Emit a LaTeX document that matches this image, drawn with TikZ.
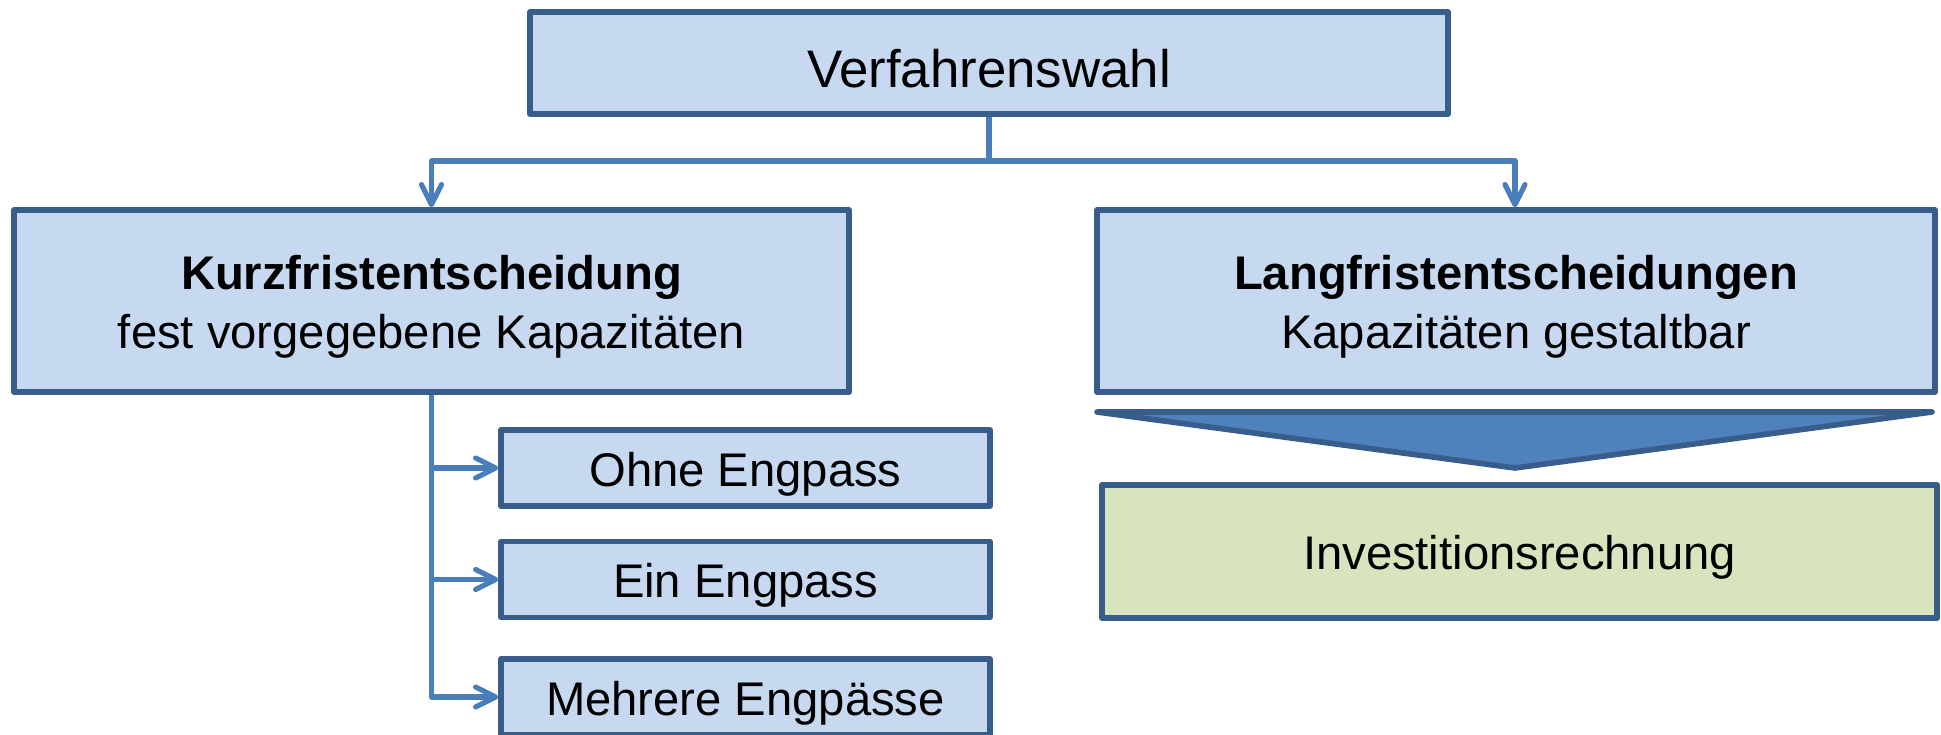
\documentclass[tikz,border=0pt]{standalone}
\usepackage{fontspec}
\setmainfont{Liberation Sans}
\usetikzlibrary{arrows.meta}
\definecolor{boxfill}{HTML}{C6D9F1}
\definecolor{boxline}{HTML}{385D8A}
\definecolor{connc}{HTML}{4A7EBB}
\definecolor{trifill}{HTML}{4F81BD}
\definecolor{greenfill}{HTML}{D7E4BD}
\tikzset{
  box/.style={draw=boxline, fill=boxfill, line width=2.8pt, line join=round, inner sep=0pt},
  greenbox/.style={box, fill=greenfill},
  txt/.style={inner sep=0pt, align=center, font=\fontsize{23.6}{29.5}\selectfont},
  conn/.style={draw=connc, line width=2.6pt, line join=round, -{Straight Barb[length=10pt,width=10pt,line cap=round,line join=round]}},
  plainconn/.style={draw=connc, line width=2.6pt, line join=round}
}
\begin{document}
\begin{tikzpicture}[x=0.5pt,y=-0.5pt]
\useasboundingbox (0,0) rectangle (1941,734);
\begin{scope}
\clip (0,0) rectangle (1941,734);
\node[box, minimum width=459pt, minimum height=51pt] (top) at (989,63) {};
\node[box, minimum width=417.5pt, minimum height=91pt] (left) at (431.5,301) {};
\node[box, minimum width=419pt, minimum height=91pt] (right) at (1516,301) {};
\node[box, minimum width=244.5pt, minimum height=38pt] (s1) at (745.5,468) {};
\node[box, minimum width=244.5pt, minimum height=38pt] (s2) at (745.5,579.5) {};
\node[box, minimum width=244.5pt, minimum height=38pt] (s3) at (745.5,697) {};
\node[greenbox, minimum width=417.5pt, minimum height=66.5pt] (inv) at (1519.5,551.5) {};
\node[txt, font=\fontsize{26.4}{31}\selectfont] (topT) at ([yshift=-3pt]top.center) {Verfahrenswahl};
\node[txt] (leftT) at ([yshift=-3pt]left.center) {\textbf{Kurzfristentscheidung}\\fest vorgegebene Kapazitäten};
\node[txt] (rightT) at ([yshift=-3pt]right.center) {\textbf{Langfristentscheidungen}\\Kapazitäten gestaltbar};
\node[txt] (s1T) at ([yshift=-3pt]s1.center) {Ohne Engpass};
\node[txt] (s2T) at ([yshift=-3pt]s2.center) {Ein Engpass};
\node[txt] (s3T) at ([yshift=-3pt]s3.center) {Mehrere Engpässe};
\node[txt] (invT) at ([yshift=-3pt]inv.center) {Investitionsrechnung};
\coordinate (junc) at (989,161);
\coordinate (tl) at (1097,412);
\coordinate (tr) at (1932,412);
\coordinate (tt) at (1515,468);
\draw[draw=boxline, fill=trifill, line width=2.8pt, line join=round, line cap=round] (tl) -- (tr) -- (tt) -- cycle;
\draw[plainconn] (top.south) -- (junc);
\draw[conn] (junc) -| (left.north);
\draw[conn] (junc) -| (tt |- right.north);
\draw[conn] (left.south) |- (s1.west);
\draw[conn] (left.south) |- (s2.west);
\draw[conn] (left.south) |- (s3.west);
\end{scope}
\end{tikzpicture}
\end{document}
